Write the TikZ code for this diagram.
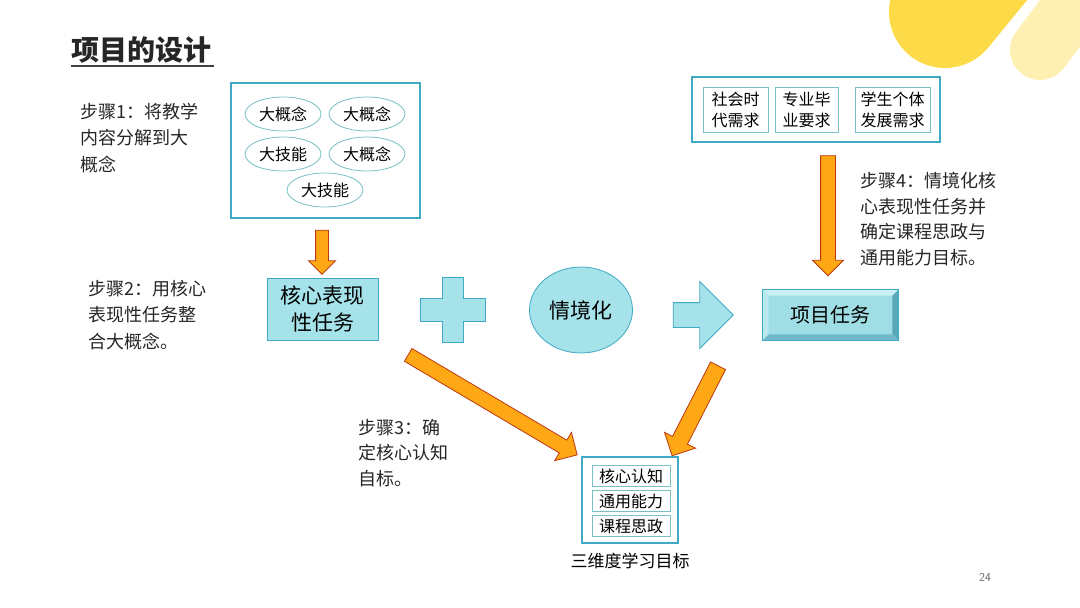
\documentclass[tikz,border=0pt]{standalone}
\usepackage{fontspec}
\usepackage{tikz}
\usetikzlibrary{shapes.geometric,shapes.arrows,calc}
\newfontfamily\cjk{Noto Sans CJK SC}
\definecolor{boxline}{RGB}{64,170,196}
\definecolor{boxfill}{RGB}{165,226,233}
\definecolor{softline}{RGB}{120,192,196}
\definecolor{arroworange}{RGB}{255,168,22}
\definecolor{arrowline}{RGB}{190,55,15}
\definecolor{sunyellow}{RGB}{253,219,72}
\definecolor{paleyellow}{RGB}{254,240,178}
\definecolor{taskfill}{RGB}{160,222,230}
\definecolor{bevellight}{RGB}{200,240,244}
\definecolor{bevelleft}{RGB}{182,232,238}
\definecolor{beveldark}{RGB}{88,168,184}
\definecolor{bevelbottom}{RGB}{112,186,200}
\tikzset{
    step-text/.style = {align=left, anchor=north west, inner sep=0pt, text=black!85, font=\cjk\fontsize{18}{26.5}\selectfont},
    outer-box/.style = {draw=boxline, line width=2pt, fill=white, rectangle},
    idea-ellipse/.style = {ellipse, draw=softline, thick, fill=white, minimum width=76pt, minimum height=34pt, inner sep=0pt, font=\cjk\fontsize{16}{16}\selectfont},
    small-box/.style = {draw=softline, thick, rectangle, inner sep=0pt, align=center, font=\cjk\fontsize{16}{21}\selectfont},
    cyan-shape/.style = {draw=boxline, fill=boxfill, thick, inner sep=0pt, align=center, font=\cjk\fontsize{21}{27}\selectfont},
    big-arrow/.style = {single arrow, draw=arrowline, fill=arroworange, thick, inner xsep=0pt, sloped, allow upside down},
}
% #1 tail, #2 tip, #3 half shaft, #4 head extend
\newcommand\bigarrow[4]{%
    \path let \p1=(#1), \p2=(#2), \n1={veclen(\x2-\x1,\y2-\y1)} in
        (#1) -- node[big-arrow, minimum height=\n1, inner ysep=#3, single arrow head extend=#4] {} (#2);}

\begin{document}
\begin{tikzpicture}[x=1pt, y=-1pt]
\useasboundingbox (0,0) rectangle (1080,608);

% corner decoration
\begin{scope}
\clip (0,0) rectangle (1080,608);
\draw[sunyellow, line width=112pt, line cap=round] (945,12) -- (1008,-65);
\draw[paleyellow, line width=60pt, line cap=round] (1040,50) -- (1100,-30);
\end{scope}

\node[anchor=north west, inner sep=0pt, text=black!85, font=\cjk\bfseries\fontsize{28}{28}\selectfont] (title) at (71,36) {项目的设计};
\draw[black!75, line width=1.5pt] ($(title.south west)+(0,3)$) -- ($(title.south east)+(3,3)$);

% step 1
\node[step-text] (step1) at (80,103) {步骤1：将教学\\内容分解到大\\概念};
\node[outer-box, minimum width=189pt, minimum height=135pt] (ideas) at (325.5,150.5) {};
\node[idea-ellipse] (idea1) at (283,114) {大概念};
\node[idea-ellipse] (idea2) at (367,114) {大概念};
\node[idea-ellipse] (skill1) at (283,154) {大技能};
\node[idea-ellipse] (idea3) at (367,154) {大概念};
\node[idea-ellipse] (skill2) at (325,190) {大技能};

% step 2
\node[step-text] (step2) at (88,280) {步骤2：用核心\\表现性任务整\\合大概念。};
\node[cyan-shape, rectangle, minimum width=111pt, minimum height=62pt] (core) at (322.5,309) {核心表现\\性任务};
\coordinate (a1-tail) at (322,227);
\coordinate (a1-tip) at (322,271);
\bigarrow{a1-tail}{a1-tip}{6pt}{7pt}

\path[draw=boxline, fill=boxfill, thick] (420,298) -- (442,298) -- (442,277) -- (463,277) -- (463,298) -- (485,298)
    -- (485,321) -- (463,321) -- (463,342) -- (442,342) -- (442,321) -- (420,321) -- cycle;
\node[cyan-shape, ellipse, minimum width=103pt, minimum height=86pt] (context) at (581,310) {情境化};
\node[single arrow, draw=boxline, fill=boxfill, thick, inner xsep=0pt, inner ysep=12pt, minimum height=60pt, single arrow head extend=21pt] (then) at (697,315) {};

% project task, bevelled
\node[cyan-shape, rectangle, fill=taskfill, minimum width=135pt, minimum height=50pt, font=\cjk\fontsize{20}{24}\selectfont] (task) at (830.5,315) {项目任务};
\fill[bevellight] (task.north west) -- (task.north east) -- ($(task.north east)+(-6,6)$) -- ($(task.north west)+(6,6)$) -- cycle;
\fill[bevelleft] (task.north west) -- ($(task.north west)+(6,6)$) -- ($(task.south west)+(6,-6)$) -- (task.south west) -- cycle;
\fill[beveldark] (task.north east) -- (task.south east) -- ($(task.south east)+(-6,-6)$) -- ($(task.north east)+(-6,6)$) -- cycle;
\fill[bevelbottom] (task.south west) -- ($(task.south west)+(6,-6)$) -- ($(task.south east)+(-6,-6)$) -- (task.south east) -- cycle;
\draw[boxline, thick] (task.north west) rectangle (task.south east);

% needs and step 4
\node[outer-box, minimum width=248pt, minimum height=65pt] (needs) at (816,109.5) {};
\node[small-box, minimum width=65pt, minimum height=45pt] (need1) at (735.5,109.5) {社会时\\代需求};
\node[small-box, minimum width=63pt, minimum height=45pt] (need2) at (806.5,109.5) {专业毕\\业要求};
\node[small-box, minimum width=75pt, minimum height=45pt] (need3) at (892.5,109.5) {学生个体\\发展需求};
\coordinate (a2-tail) at (828,152);
\coordinate (a2-tip) at (828,272);
\bigarrow{a2-tail}{a2-tip}{7pt}{8pt}
\node[step-text, font=\cjk\fontsize{18}{25.7}\selectfont] (step4) at (860,172) {步骤4：情境化核\\心表现性任务并\\确定课程思政与\\通用能力目标。};

% step 3 and goals
\node[step-text, font=\cjk\fontsize{18}{25.5}\selectfont] (step3) at (358,419) {步骤3：确\\定核心认知\\自标。};
\node[outer-box, minimum width=96pt, minimum height=86pt] (goals) at (630,500) {};
\node[small-box, minimum width=78pt, minimum height=21pt] (goal1) at (631,476) {核心认知};
\node[small-box, minimum width=78pt, minimum height=21pt] (goal2) at (631,501) {通用能力};
\node[small-box, minimum width=78pt, minimum height=21pt] (goal3) at (631,526) {课程思政};
\node[inner sep=0pt, font=\cjk\fontsize{17}{17}\selectfont] (goals-label) at (630,561) {三维度学习目标};

\coordinate (a3-tail) at (405,353);
\coordinate (a3-tip) at (574,453);
\bigarrow{a3-tail}{a3-tip}{7pt}{9pt}
\coordinate (a4-tail) at (720,362);
\coordinate (a4-tip) at (674,452);
\bigarrow{a4-tail}{a4-tip}{8pt}{9pt}

\node[text=black!60, font=\sffamily\fontsize{12}{12}\selectfont] (page) at (985,577) {24};
\end{tikzpicture}
\end{document}
